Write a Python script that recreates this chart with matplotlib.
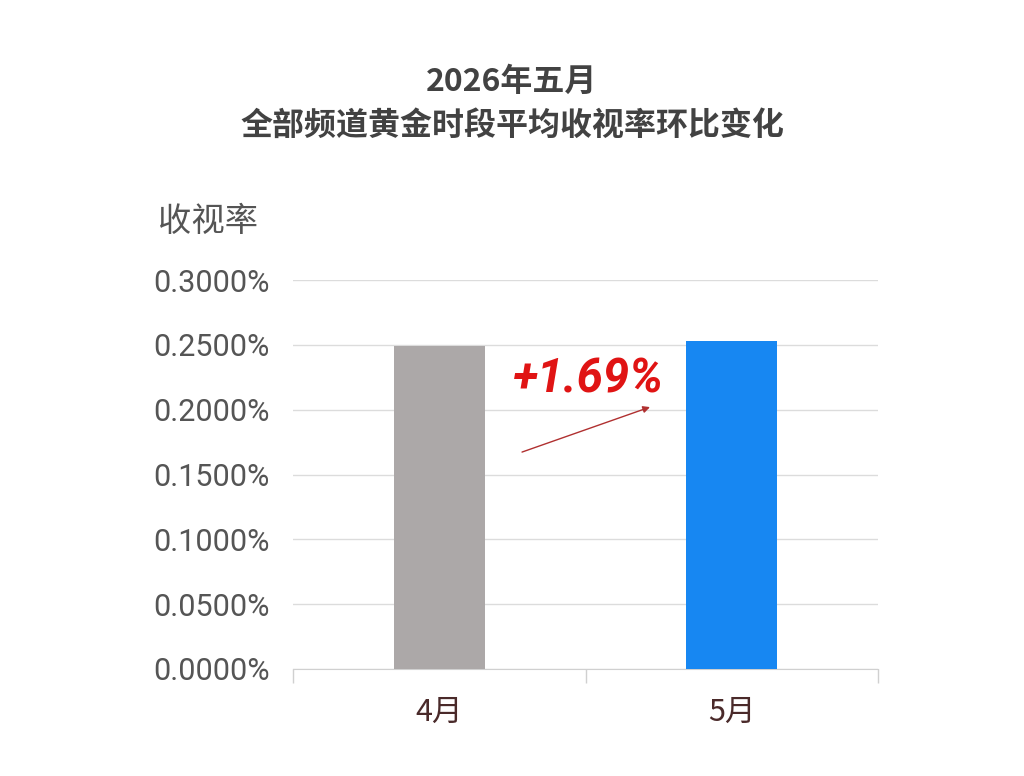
import matplotlib
matplotlib.use("Agg")
import matplotlib.pyplot as plt
from matplotlib.ticker import FuncFormatter, FixedLocator

categories = ["4月", "5月"]
values = [0.2491, 0.2533]  # percent
bar_colors = ["#aca8a8", "#1787f2"]
yticks = [0.0, 0.05, 0.10, 0.15, 0.20, 0.25, 0.30]
change_label = "+1.69%"
title_lines = ["2026年五月", "全部频道黄金时段平均收视率环比变化"]
ylabel = "收视率"

cjk = ["Noto Sans CJK SC", "DejaVu Sans"]
num_font = ["Roboto", "DejaVu Sans"]

fig = plt.figure(figsize=(10.24, 7.76), dpi=100)
ax = fig.add_axes([293/1024, 1-669/776, (878-293)/1024, (669-280)/776])

x = list(range(len(categories)))
ax.bar(x, values, width=0.31, color=bar_colors, zorder=3)
ax.set_xlim(-0.5, 1.5)
ax.set_ylim(0, 0.30)
ax.yaxis.set_major_locator(FixedLocator(yticks))
ax.yaxis.set_major_formatter(FuncFormatter(lambda v, p: f"{v:.4f}%"))
ax.grid(axis="y", color="#dcdcdc", lw=1.0, zorder=0)
for s in ["top", "right", "left"]:
    ax.spines[s].set_visible(False)
ax.spines["bottom"].set_color("#d0d0d0")
ax.tick_params(axis="y", length=0, pad=17, labelsize=22, labelcolor="#555555")
for lab in ax.get_yticklabels():
    lab.set_fontfamily(num_font)

ax.set_xticks(x)
ax.set_xticklabels(categories, fontfamily=cjk, fontsize=22, color="#4a2a2a")
ax.tick_params(axis="x", which="major", length=0, pad=20)
ax.set_xticks([-0.5, 0.5, 1.5], minor=True)
ax.tick_params(axis="x", which="minor", length=10, color="#d0d0d0", width=1)

fig.text(0.5, 1-82/776, title_lines[0], ha="center", va="center",
         fontsize=23, fontweight="bold", color="#424242", fontfamily=cjk)
fig.text(0.5, 1-126/776, title_lines[1], ha="center", va="center",
         fontsize=23, fontweight="bold", color="#424242", fontfamily=cjk)
fig.text(208/1024, 1-221/776, ylabel, ha="center", va="center",
         fontsize=24, color="#555555", fontfamily=cjk)

ax.annotate("", xy=(0.7205, 0.2020), xytext=(0.283, 0.1673),
            arrowprops=dict(arrowstyle="-|>", color="#b03030", lw=1.0,
                            mutation_scale=10, shrinkA=0, shrinkB=0), zorder=4)
ax.text(0.5085, 0.2229, change_label, ha="center", va="center", fontsize=34,
        fontweight="bold", fontstyle="italic", color="#e01414",
        fontfamily=num_font, zorder=5)

fig.savefig("out.png", dpi=100, facecolor="white")
